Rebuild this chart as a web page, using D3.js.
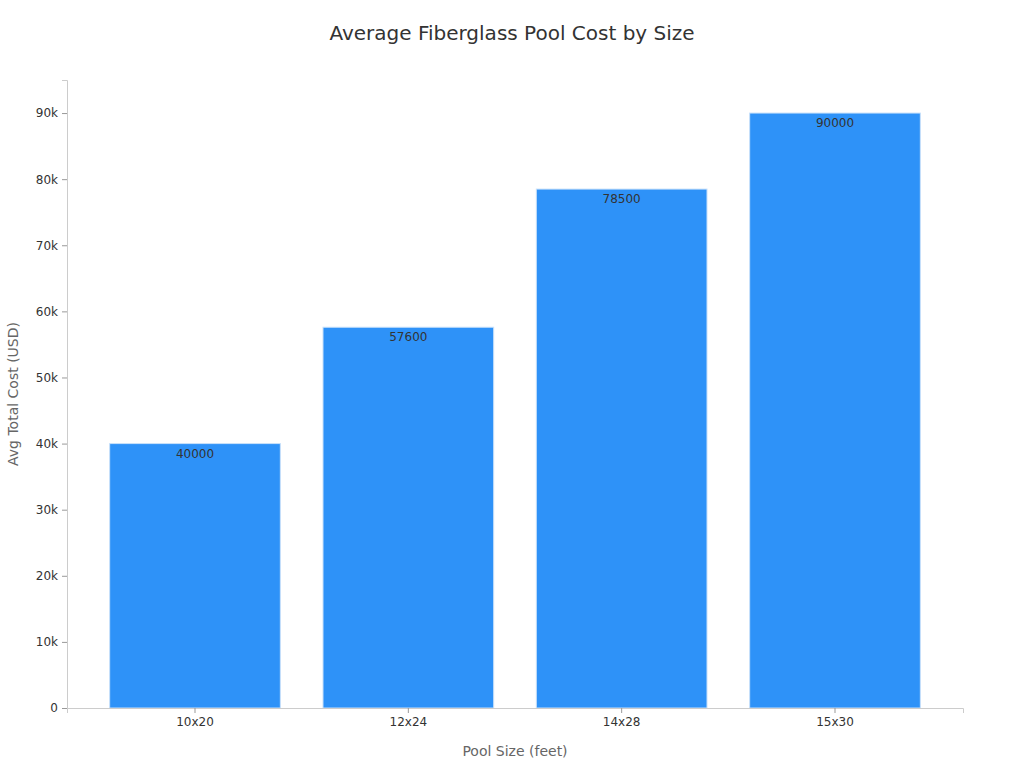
<!DOCTYPE html>
<html>
<head>
<meta charset="utf-8">
<script src="https://cdn.jsdelivr.net/npm/d3@7"></script>
<style>
  body { margin: 0; background: #fff; font-family: "DejaVu Sans", sans-serif; }
</style>
</head>
<body>
<div id="chart"></div>
<script>
// chart data
var sizes = ["10x20", "12x24", "14x28", "15x30"];
var costs = [40000, 57600, 78500, 90000];
var yTicks = [0, 10000, 20000, 30000, 40000, 50000, 60000, 70000, 80000, 90000];

var svgWidth = 1024;
var svgHeight = 768;
var margin = { top: 80, right: 61, bottom: 60, left: 67 };
var chartWidth = svgWidth - margin.left - margin.right;
var chartHeight = svgHeight - margin.top - margin.bottom;

var svg = d3.select("#chart")
  .append("svg")
  .attr("width", svgWidth)
  .attr("height", svgHeight);

var chartGroup = svg.append("g")
  .attr("transform", `translate(${margin.left}, ${margin.top})`);

var x = d3.scaleBand().domain(sizes).range([0, chartWidth]).padding(0.2);
var y = d3.scaleLinear().domain([0, 95000]).range([chartHeight, 0]);

// bars
chartGroup.selectAll("rect")
  .data(costs)
  .enter()
  .append("rect")
  .attr("x", (d, i) => x(sizes[i]))
  .attr("y", d => y(d))
  .attr("width", x.bandwidth())
  .attr("height", d => chartHeight - y(d))
  .attr("fill", "#2e92f8")
  .attr("stroke", "#c8e0fa")
  .attr("stroke-width", 1);

// value labels
chartGroup.selectAll(".val")
  .data(costs)
  .enter()
  .append("text")
  .attr("class", "val")
  .attr("x", (d, i) => x(sizes[i]) + x.bandwidth() / 2)
  .attr("y", d => y(d) + 14)
  .attr("text-anchor", "middle")
  .attr("font-size", 12)
  .attr("fill", "#333")
  .text(d => d);

// axes
var yAxis = chartGroup.append("g")
  .call(d3.axisLeft(y).tickValues(yTicks).tickSize(5).tickPadding(4)
    .tickFormat(d => d === 0 ? "0" : (d / 1000) + "k"));
yAxis.select(".domain").attr("stroke", "#ccc");
yAxis.selectAll(".tick line").attr("stroke", "#999");
yAxis.selectAll("text").attr("font-size", 12).attr("fill", "#333").attr("font-family", "DejaVu Sans, sans-serif");

var xAxis = chartGroup.append("g")
  .attr("transform", `translate(0, ${chartHeight})`)
  .call(d3.axisBottom(x).tickSize(5).tickPadding(4));
xAxis.select(".domain").attr("stroke", "#ccc");
xAxis.selectAll(".tick line").attr("stroke", "#999");
xAxis.selectAll("text").attr("font-size", 12).attr("fill", "#333").attr("font-family", "DejaVu Sans, sans-serif");

// title and axis labels
svg.append("text")
  .attr("x", svgWidth / 2).attr("y", 40)
  .attr("text-anchor", "middle")
  .attr("font-size", 20).attr("fill", "#333")
  .text("Average Fiberglass Pool Cost by Size");

svg.append("text")
  .attr("x", margin.left + chartWidth / 2).attr("y", 756)
  .attr("text-anchor", "middle")
  .attr("font-size", 14).attr("fill", "#666")
  .text("Pool Size (feet)");

svg.append("text")
  .attr("transform", `translate(18, ${margin.top + chartHeight / 2}) rotate(-90)`)
  .attr("text-anchor", "middle")
  .attr("font-size", 14).attr("fill", "#666")
  .text("Avg Total Cost (USD)");
</script>
</body>
</html>
